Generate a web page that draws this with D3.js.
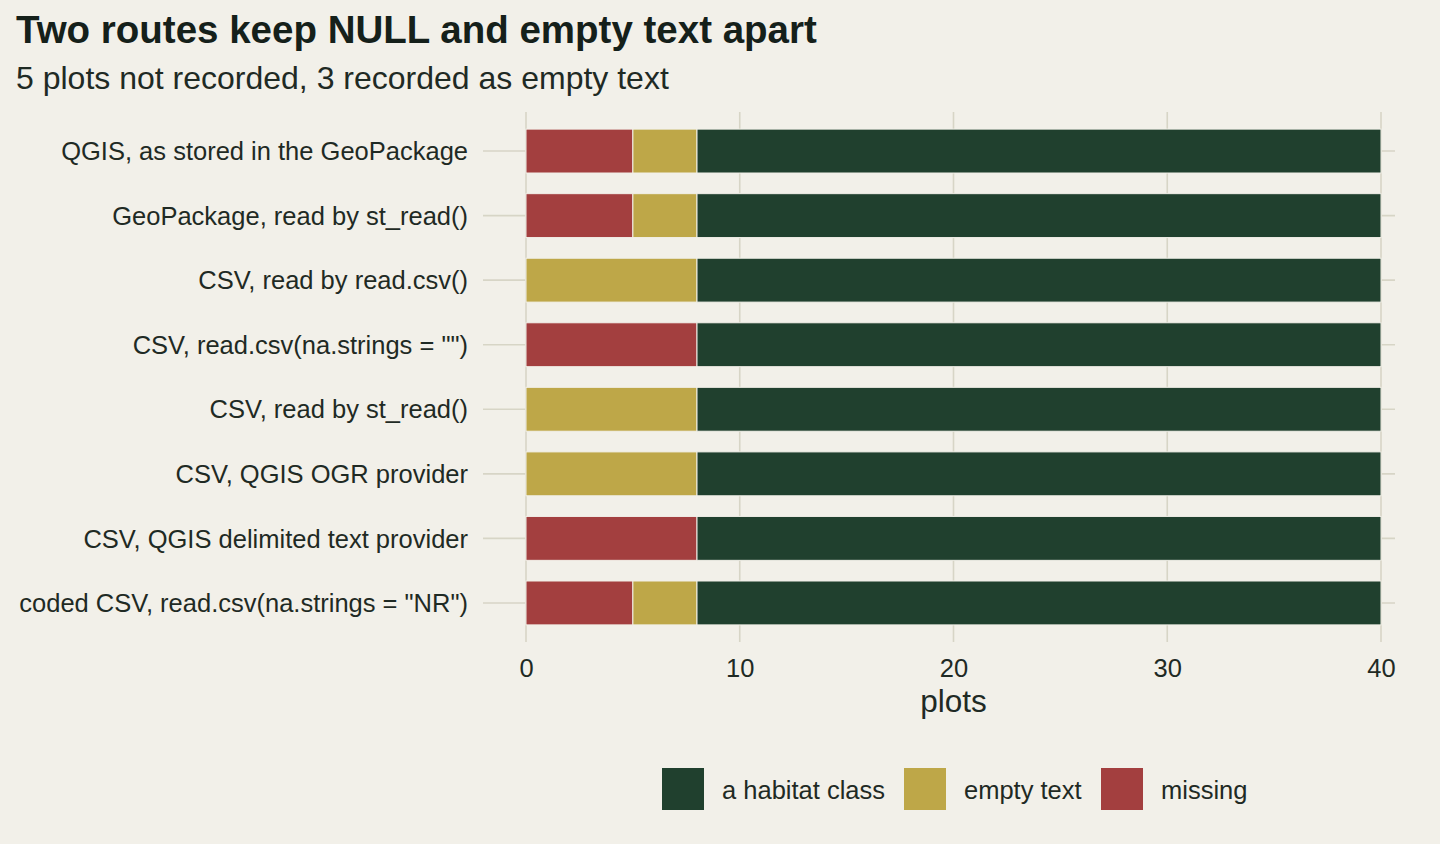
<!DOCTYPE html>
<html lang="en">
  <head>
    <meta charset="utf-8">
    <title>Two routes keep NULL and empty text apart</title>
    <script src="https://d3js.org/d3.v7.js"></script>
    <style>
      body { margin: 0; background: #f2f0e9; }
      text { font-family: "Liberation Sans", Arial, Helvetica, sans-serif; }
    </style>
  </head>

  <body>

  <script>

// data

  const routes = ["QGIS, as stored in the GeoPackage", "GeoPackage, read by st_read()",
    "CSV, read by read.csv()", "CSV, read.csv(na.strings = \"\")", "CSV, read by st_read()",
    "CSV, QGIS OGR provider", "CSV, QGIS delimited text provider",
    "coded CSV, read.csv(na.strings = \"NR\")"];
  const missing   = [5, 5, 0, 8, 0, 0, 8, 5];
  const emptyText = [3, 3, 8, 0, 8, 8, 0, 3];
  const habitat   = [32, 32, 32, 32, 32, 32, 32, 32];
  const groups = ["missing", "empty text", "a habitat class"];
  const legendOrder = ["a habitat class", "empty text", "missing"];
  const colors = ["#a33f3f", "#bea748", "#20402e"];
  const xTicks = [0, 10, 20, 30, 40];

  const w = 1440;
  const h = 844;
  const panel = {left: 483, right: 1395, top: 112, bottom: 642};

  const rows = routes.map((r, i) => ({route: r, "missing": missing[i],
    "empty text": emptyText[i], "a habitat class": habitat[i]}));
  const stacked = d3.stack().keys(groups)(rows);

  const xScale = d3.scaleLinear()
      .domain([0, 40])
      .range([526, 1381]);

  const yScale = d3.scaleBand()
      .domain(routes)
      .range([panel.top, panel.bottom])
      .paddingInner(0.32)
      .paddingOuter(0.265);

  const color = d3.scaleOrdinal().domain(groups).range(colors);

  const svg = d3.select("body")
    .append("svg")
      .attr("width", w)
      .attr("height", h);

  svg.append("rect")
      .attr("width", w)
      .attr("height", h)
      .attr("fill", "#f2f0e9");

// gridlines

  svg.append("g")
    .selectAll("line")
    .data(xTicks)
    .join("line")
      .attr("x1", d => xScale(d))
      .attr("x2", d => xScale(d))
      .attr("y1", panel.top)
      .attr("y2", panel.bottom)
      .attr("stroke", "#d7d5c6")
      .attr("stroke-width", 1.6);

  svg.append("g")
    .selectAll("line")
    .data(routes)
    .join("line")
      .attr("x1", panel.left)
      .attr("x2", panel.right)
      .attr("y1", d => yScale(d) + yScale.bandwidth() / 2)
      .attr("y2", d => yScale(d) + yScale.bandwidth() / 2)
      .attr("stroke", "#d7d5c6")
      .attr("stroke-width", 1.6);

// bars

  svg.append("g")
    .selectAll("g")
    .data(stacked)
    .join("g")
      .attr("fill", d => color(d.key))
    .selectAll("rect")
    .data(d => d.filter(s => s[1] > s[0]))
    .join("rect")
      .attr("x", d => xScale(d[0]))
      .attr("y", d => yScale(d.data.route))
      .attr("width", d => xScale(d[1]) - xScale(d[0]))
      .attr("height", yScale.bandwidth())
      .attr("stroke", "#f2f0e9")
      .attr("stroke-width", 1);

// axes

  const xAxis = svg.append("g")
      .attr("transform", `translate(0, ${panel.bottom})`)
      .call(d3.axisBottom(xScale).tickValues(xTicks).tickSize(0).tickPadding(0));
  xAxis.select(".domain").remove();
  xAxis.selectAll("text")
      .attr("y", 0)
      .attr("dy", 35)
      .attr("font-size", 25.5)
      .attr("font-family", null)
      .attr("fill", "#1f2a24");

  const yAxis = svg.append("g")
      .attr("transform", `translate(468, 0)`)
      .call(d3.axisLeft(yScale).tickSize(0).tickPadding(0));
  yAxis.select(".domain").remove();
  yAxis.selectAll("text")
      .attr("x", 0)
      .attr("dy", "0.36em")
      .attr("font-size", 25.5)
      .attr("font-family", null)
      .attr("fill", "#1f2a24");

  svg.append("text")
    .attr("x", (xScale(0) + xScale(40)) / 2)
    .attr("y", 712)
    .attr("text-anchor", "middle")
    .attr("font-size", 31.5)
    .attr("fill", "#1f2a24")
    .text("plots");

// titles

  svg.append("text")
    .attr("x", 16)
    .attr("y", 43)
    .attr("font-size", 38.5)
    .attr("font-weight", "bold")
    .attr("fill", "#15201a")
    .text("Two routes keep NULL and empty text apart");

  svg.append("text")
    .attr("x", 16)
    .attr("y", 89)
    .attr("font-size", 32)
    .attr("fill", "#1f2a24")
    .text("5 plots not recorded, 3 recorded as empty text");

// legend

  const legendX = [662, 904, 1101];
  const legend = svg.append("g")
    .selectAll("g")
    .data(legendOrder)
    .join("g")
      .attr("transform", (d, i) => `translate(${legendX[i]}, 768)`);

  legend.append("rect")
      .attr("width", 42)
      .attr("height", 42)
      .attr("fill", d => color(d));

  legend.append("text")
      .attr("x", 60)
      .attr("y", 31)
      .attr("font-size", 25.5)
      .attr("fill", "#1f2a24")
      .text(d => d);

    </script>

  </body>

</html>
